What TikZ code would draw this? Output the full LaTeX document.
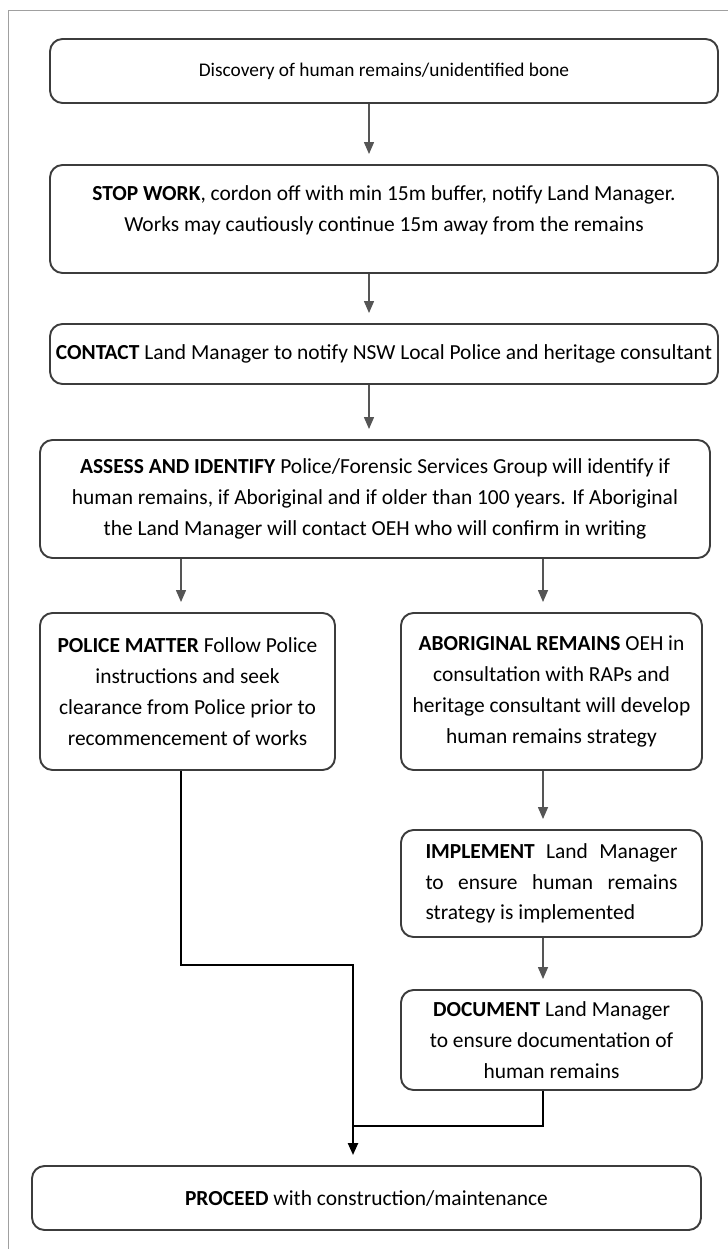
\documentclass[tikz,border=0pt]{standalone}
\usepackage{fontspec}
\setmainfont{Carlito}
\usepackage{tikz}
\usetikzlibrary{positioning, arrows.meta, calc}

\definecolor{boxline}{HTML}{3C3C3C}
\definecolor{arrowgrey}{HTML}{555555}
\definecolor{framegrey}{HTML}{A0A0A0}

\begin{document}
\begin{tikzpicture}[
    stepbox/.style={draw=boxline, line width=1.1pt, rounded corners=0.25cm, align=center, inner sep=0pt, font=\fontsize{12.2}{17.5}\selectfont},
    flow/.style={draw=arrowgrey, line width=0.8pt, -{Triangle[length=0.24cm, width=0.2cm]}, shorten >=0.2cm},
    merge/.style={draw=black, line width=1.3pt}
]
    \useasboundingbox (0,0) rectangle (14.56,-24.98);
    \draw [framegrey, line width=0.5pt] (14.56,-0.2) -- (0.16,-0.2) -- (0.16,-24.98);

    \node (disc) [stepbox, minimum width=13.36cm, minimum height=1.28cm, font=\fontsize{11}{17.5}\selectfont] at (7.68,-1.42) {Discovery of human remains/unidentified bone};
    \node (stop) [stepbox, minimum width=13.36cm, minimum height=2.16cm, label={[align=center, font=\fontsize{12.2}{17.5}\selectfont, yshift=0.18cm]center:\textbf{STOP WORK}, cordon off with min 15m buffer, notify Land Manager.\\ Works may cautiously continue 15m away from the remains}] at (7.68,-4.38) {};
    \node (contact) [stepbox, minimum width=13.36cm, minimum height=1.2cm] at (7.68,-7.08) {\textbf{CONTACT} Land Manager to notify NSW Local Police and heritage consultant};
    \node (assess) [stepbox, minimum width=13.4cm, minimum height=2.36cm] at (7.5,-9.98) {\textbf{ASSESS AND IDENTIFY} Police/Forensic Services Group will identify if\\ human remains, if Aboriginal and if older than 100 years. If Aboriginal\\ the Land Manager will contact OEH who will confirm in writing};
    \node (police) [stepbox, minimum width=5.9cm, minimum height=3.14cm] at (3.75,-13.83) {\textbf{POLICE MATTER} Follow Police\\ instructions and seek\\ clearance from Police prior to\\ recommencement of works};
    \node (abor) [stepbox, minimum width=6.02cm, minimum height=3.14cm] at (11.03,-13.83) {\textbf{ABORIGINAL REMAINS} OEH in\\ consultation with RAPs and\\ heritage consultant will develop\\ human remains strategy};
    \node (impl) [stepbox, minimum width=6.02cm, minimum height=2.14cm] at (11.03,-17.67) {\makebox[5.04cm][s]{\textbf{IMPLEMENT} Land Manager}\\ \makebox[5.04cm][s]{to ensure human remains}\\ \makebox[5.04cm][l]{strategy is implemented}};
    \node (doc) [stepbox, minimum width=6.02cm, minimum height=2cm] at (11.03,-20.8) {\textbf{DOCUMENT} Land Manager\\ to ensure documentation of\\ human remains};
    \node (proceed) [stepbox, minimum width=13.38cm, minimum height=1.28cm] at (7.33,-23.96) {\textbf{PROCEED} with construction/maintenance};

    % columns the arrows run down
    \coordinate (colM) at (7.38,0);
    \coordinate (colL) at (3.62,0);
    \coordinate (colR) at (10.86,0);
    \coordinate (step) at (7.06,-19.3);
    \coordinate (join) at (7.06,-22.52);

    \draw [flow] (disc.south -| colM) -- (stop.north -| colM);
    \draw [flow] (stop.south -| colM) -- (contact.north -| colM);
    \draw [flow] (contact.south -| colM) -- (assess.north -| colM);
    \draw [flow] (assess.south -| colL) -- (police.north -| colL);
    \draw [flow] (assess.south -| colR) -- (abor.north -| colR);
    \draw [flow] (abor.south -| colR) -- (impl.north -| colR);
    \draw [flow] (impl.south -| colR) -- (doc.north -| colR);
    \draw [merge] (police.south -| colL) |- (step) -- (join);
    \draw [merge] (doc.south -| colR) |- (join);
    \draw [merge, -{Triangle[length=0.24cm, width=0.2cm]}, shorten >=0.2cm] (join) -- (proceed.north -| join);
\end{tikzpicture}
\end{document}
